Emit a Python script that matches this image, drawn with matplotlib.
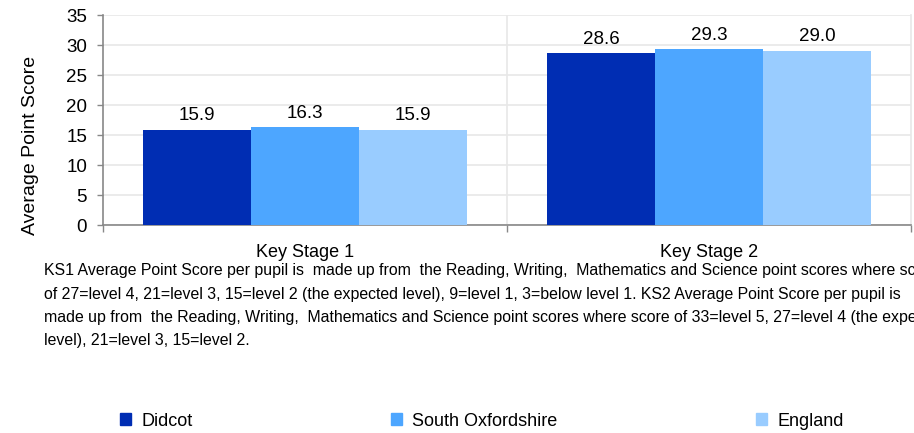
import matplotlib
matplotlib.use("Agg")
import matplotlib.pyplot as plt
from matplotlib.patches import Patch
import numpy as np

categories = ["Key Stage 1", "Key Stage 2"]
series_names = ["Didcot", "South Oxfordshire", "England"]
didcot = [15.9, 28.6]
south_oxon = [16.3, 29.3]
england = [15.9, 29.0]
colors = ["#002DB3", "#4DA6FF", "#99CCFF"]
yticks = [0, 5, 10, 15, 20, 25, 30, 35]
footnote = [
    "KS1 Average Point Score per pupil is  made up from  the Reading, Writing,  Mathematics and Science point scores where score",
    "of 27=level 4, 21=level 3, 15=level 2 (the expected level), 9=level 1, 3=below level 1. KS2 Average Point Score per pupil is",
    "made up from  the Reading, Writing,  Mathematics and Science point scores where score of 33=level 5, 27=level 4 (the expected",
    "level), 21=level 3, 15=level 2.",
]

plt.rcParams['font.family'] = ['Liberation Sans', 'DejaVu Sans']

fig = plt.figure(figsize=(9.14, 4.33), dpi=100)
ax = fig.add_axes([103/914, 1-225/433, (911-103)/914, (225-15)/433])

x = np.arange(len(categories))
w = 0.267
all_series = [didcot, south_oxon, england]
for i, (vals, c, name) in enumerate(zip(all_series, colors, series_names)):
    pos = x + (i - 1) * w
    bars = ax.bar(pos, vals, width=w, color=c, label=name, zorder=3)
    for b, v in zip(bars, vals):
        ax.annotate(f"{v:.1f}", (b.get_x() + b.get_width()/2, v), xytext=(0, 4),
                    textcoords="offset points", ha="center", va="bottom", fontsize=13.5)

ax.set_xlim(-0.5, 1.5)
ax.set_ylim(0, 35)
ax.set_yticks(yticks)
ax.tick_params(axis='y', labelsize=13.5, color="#888888", length=4.5, width=1, pad=7)
ax.set_xticks(x)
ax.set_xticklabels(categories, fontsize=13)
ax.tick_params(axis='x', length=0, pad=14)
ax.set_xticks([-0.5, 0.5, 1.5], minor=True)
ax.tick_params(axis='x', which='minor', length=5, color="#888888", width=1)
ax.yaxis.grid(True, color="#E8E8E8", linewidth=1.2, zorder=0)
ax.axvline(0.5, color="#E8E8E8", linewidth=1.2, zorder=0)
ax.spines["top"].set_visible(False)
ax.spines["right"].set_color("#E8E8E8")
ax.spines["right"].set_linewidth(1.2)
ax.spines["left"].set_color("#888888")
ax.spines["bottom"].set_color("#888888")
ax.spines["left"].set_linewidth(1.2)
ax.spines["bottom"].set_linewidth(1.2)
fig.text(31/914, 1 - 145/433, "Average Point Score", fontsize=14, rotation=90,
         ha="center", va="center")

for i, line in enumerate(footnote):
    fig.text(44/914, 1 - (271 + i*23.2)/433, line, fontsize=11.4, va="center", ha="left")

leg_x = [120/914, 391/914, 756/914]
for name, c, lx in zip(series_names, colors, leg_x):
    fig.legend(handles=[Patch(color=c, label=name)], loc="center left",
               bbox_to_anchor=(lx, 1 - 421/433), frameon=False, fontsize=13,
               handlelength=0.62, handleheight=0.62, handletextpad=0.55, borderpad=0, borderaxespad=0)

fig.savefig("out.png", dpi=100)
